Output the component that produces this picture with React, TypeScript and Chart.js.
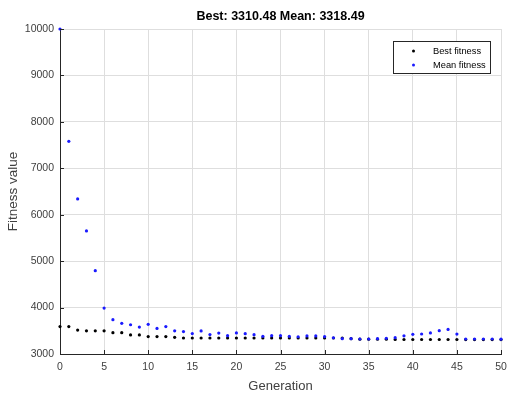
import React, { useEffect, useRef } from "react";
import { Chart, registerables } from "chart.js";

Chart.register(...registerables);

const generations = [
  0, 1, 2, 3, 4, 5, 6, 7, 8, 9, 10, 11, 12, 13, 14, 15, 16, 17, 18, 19, 20, 21, 22, 23, 24, 25,
  26, 27, 28, 29, 30, 31, 32, 33, 34, 35, 36, 37, 38, 39, 40, 41, 42, 43, 44, 45, 46, 47, 48, 49, 50,
];

const bestFitness = [
  3590, 3590, 3515, 3500, 3500, 3500, 3460, 3460, 3410, 3410, 3375, 3375, 3375, 3360, 3345, 3345,
  3345, 3345, 3345, 3345, 3345, 3345, 3345, 3345, 3345, 3345, 3345, 3345, 3345, 3345, 3345, 3345,
  3345, 3330, 3320, 3320, 3320, 3320, 3312, 3312, 3312, 3312, 3312, 3312, 3312, 3312, 3311, 3311,
  3311, 3311, 3310.48,
];

const meanFitness = [
  10000, 7580, 6340, 5650, 4795, 3990, 3740, 3660, 3630, 3580, 3640, 3550, 3590, 3500, 3482, 3440,
  3496, 3418, 3450, 3394, 3455, 3437, 3416, 3381, 3394, 3394, 3381, 3372, 3390, 3390, 3375, 3350,
  3330, 3330, 3323, 3323, 3330, 3337, 3351, 3392, 3424, 3431, 3453, 3502, 3530, 3430, 3323, 3323,
  3323, 3323, 3318.49,
];

const xTickValues = [0, 5, 10, 15, 20, 25, 30, 35, 40, 45, 50];
const yTickValues = [3000, 4000, 5000, 6000, 7000, 8000, 9000, 10000];

const titleText = "Best: 3310.48 Mean: 3318.49";
const legendLabels = ["Best fitness", "Mean fitness"];
const seriesColors = ["#000000", "#1a1aff"];

const FONT = "'Liberation Sans', Arial, Helvetica, sans-serif";

const decorPlugin = {
  id: "decor",
  afterDraw(chart: any) {
    const ctx = chart.ctx;
    const area = chart.chartArea;
    const xs = chart.scales.x;
    const ys = chart.scales.y;
    ctx.save();
    // inward ticks
    ctx.strokeStyle = "#262626";
    ctx.lineWidth = 1;
    ctx.beginPath();
    yTickValues.forEach((v) => {
      const y = Math.round(ys.getPixelForValue(v)) + 0.5;
      ctx.moveTo(area.left, y);
      ctx.lineTo(area.left + 4, y);
    });
    xTickValues.forEach((v) => {
      const x = Math.round(xs.getPixelForValue(v)) + 0.5;
      ctx.moveTo(x, area.bottom);
      ctx.lineTo(x, area.bottom - 4);
    });
    ctx.stroke();

    // title
    ctx.fillStyle = "#000000";
    ctx.font = `bold 12.5px ${FONT}`;
    ctx.textAlign = "center";
    ctx.textBaseline = "middle";
    ctx.fillText(titleText, (area.left + area.right) / 2, 17);

    // legend
    const bw = 97;
    const bh = 32;
    const bx = Math.round(area.right - 11 - bw) + 0.5;
    const by = Math.round(area.top + 12) + 0.5;
    ctx.fillStyle = "#ffffff";
    ctx.fillRect(bx, by, bw, bh);
    ctx.strokeStyle = "#262626";
    ctx.lineWidth = 1;
    ctx.strokeRect(bx, by, bw, bh);
    ctx.font = `9.3px ${FONT}`;
    ctx.textAlign = "left";
    legendLabels.forEach((lab, i) => {
      const cy = by + 9.5 + i * 14;
      ctx.fillStyle = seriesColors[i];
      ctx.beginPath();
      ctx.arc(bx + 20, cy, 1.5, 0, Math.PI * 2);
      ctx.fill();
      ctx.fillStyle = "#000000";
      ctx.fillText(lab, bx + 39.5, cy);
    });
    ctx.restore();
  },
};

export default function App() {
  const canvasRef = useRef<HTMLCanvasElement | null>(null);

  useEffect(() => {
    if (!canvasRef.current) return;
    const chart = new Chart(canvasRef.current, {
      type: "scatter",
      data: {
        datasets: [
          {
            label: legendLabels[1],
            data: generations.map((g, i) => ({ x: g, y: meanFitness[i] })),
            backgroundColor: seriesColors[1],
            borderColor: seriesColors[1],
            pointRadius: 1.6,
            pointBorderWidth: 0,
            clip: false,
            order: 0,
          },
          {
            label: legendLabels[0],
            data: generations.map((g, i) => ({ x: g, y: bestFitness[i] })),
            backgroundColor: seriesColors[0],
            borderColor: seriesColors[0],
            pointRadius: 1.6,
            pointBorderWidth: 0,
            clip: false,
            order: 1,
          },
        ],
      },
      options: {
        animation: false,
        responsive: false,
        events: [],
        layout: { padding: { top: 29, right: 6, left: 0, bottom: 0 } },
        plugins: {
          legend: { display: false },
          title: { display: false },
          tooltip: { enabled: false },
        },
        scales: {
          x: {
            type: "linear",
            min: 0,
            max: 50,
            afterBuildTicks: (s: any) => {
              s.ticks = xTickValues.map((v) => ({ value: v }));
            },
            afterFit: (s: any) => {
              s.height = 40;
              s.paddingLeft = 0;
              s.paddingRight = 0;
            },
            grid: { color: "#dedede", drawTicks: false, lineWidth: 1 },
            border: { color: "#262626", width: 1 },
            ticks: {
              padding: 7,
              color: "#404040",
              font: { family: FONT, size: 10.5 },
              maxRotation: 0,
              autoSkip: false,
              callback: (v: any) => String(v),
            },
            title: {
              display: true,
              text: "Generation",
              color: "#404040",
              font: { family: FONT, size: 13, lineHeight: 1 },
              padding: { top: 0, bottom: 1 },
            },
          },
          y: {
            type: "linear",
            min: 3000,
            max: 10000,
            afterBuildTicks: (s: any) => {
              s.ticks = yTickValues.map((v) => ({ value: v }));
            },
            afterFit: (s: any) => {
              s.width = 60;
              s.paddingTop = 0;
              s.paddingBottom = 0;
            },
            grid: { color: "#dedede", drawTicks: false, lineWidth: 1 },
            border: { color: "#262626", width: 1 },
            ticks: {
              padding: 6,
              color: "#404040",
              font: { family: FONT, size: 10.5 },
              autoSkip: false,
              callback: (v: any) => String(v),
            },
            title: {
              display: true,
              text: "Fitness value",
              color: "#404040",
              font: { family: FONT, size: 13.5, lineHeight: 1.2 },
              padding: { top: 5, bottom: 0 },
            },
          },
        },
      },
      plugins: [decorPlugin],
    });
    return () => chart.destroy();
  }, []);

  return (
    <div style={{ position: "absolute", left: 0, top: 0, width: 507, height: 394, background: "#ffffff" }}>
      <canvas ref={canvasRef} width={507} height={394} style={{ width: 507, height: 394, display: "block" }} />
    </div>
  );
}
